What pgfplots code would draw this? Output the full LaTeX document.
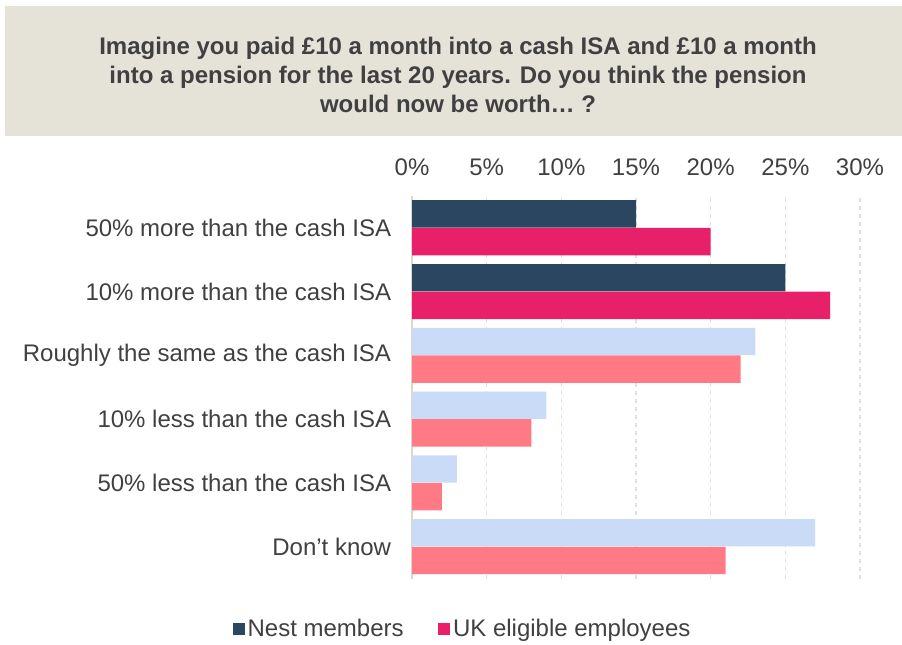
\documentclass[border=0pt]{standalone}
\usepackage{fontspec}
\setmainfont{Liberation Sans}
\usepackage{pgfplots}
\pgfplotsset{compat=1.18}
\definecolor{navy}{HTML}{2B4660}
\definecolor{magenta}{HTML}{E8206A}
\definecolor{lightblue}{HTML}{C9DBF6}
\definecolor{salmon}{HTML}{FF7A84}
\definecolor{beige}{HTML}{E5E2D8}
\definecolor{txt}{HTML}{404040}
\definecolor{gridc}{HTML}{E2DFD6}
\definecolor{axc}{HTML}{DAD7CE}
\begin{document}
\begin{tikzpicture}
\begin{scope}[x=0.75pt,y=-0.75pt]
\useasboundingbox (0,0) rectangle (902,643);
\fill[beige] (5,6) rectangle (902,136);
\node[align=center, text=txt, font=\bfseries\fontsize{18pt}{21.75pt}\selectfont] at (458,75)
 {Imagine you paid £10 a month into a cash ISA and £10 a month\\into a pension for the last 20 years. Do you think the pension\\would now be worth\ldots\ ?};
\end{scope}
\begin{axis}[
  at={(309pt,-433.875pt)}, anchor=south west,
  scale only axis, width=336pt, height=286.9pt,
  xbar, bar width=20.6pt,
  legend image code/.code={\fill[#1,draw=none] (0pt,-4.5pt) rectangle (9pt,4.5pt);},
  xmin=0, xmax=30, ymin=-0.5, ymax=5.5,
  xtick={0,5,...,30},
  xticklabel pos=upper,
  xticklabel={\pgfmathprintnumber{\tick}\%},
  /pgf/number format/assume math mode=true,
  xticklabel style={anchor=base, yshift=15.5pt, font=\fontsize{18pt}{21pt}\selectfont, text=txt},
  ytick={0,1,2,3,4,5},
  yticklabels={Don’t know, 50\% less than the cash ISA, 10\% less than the cash ISA, Roughly the same as the cash ISA, 10\% more than the cash ISA, 50\% more than the cash ISA},
  yticklabel style={anchor=east, inner sep=0pt, xshift=-15.5pt, font=\fontsize{18pt}{21pt}\selectfont, text=txt},
  major tick length=0pt,
  axis line style={draw=none},
  xmajorgrids, major grid style={dash pattern=on 3pt off 3pt, color=gridc, line width=0.8pt},
  clip=false,
  legend columns=2,
  legend style={at={(0.114,-0.132)}, anchor=center, draw=none, fill=none,
    font=\fontsize{18pt}{21pt}\selectfont, text=txt,
    /tikz/every even column/.append style={column sep=24pt}},
]
\draw[axc, line width=1.5pt] (axis cs:0,-0.5) -- (axis cs:0,5.5);
\addplot[fill=navy, draw=none, bar shift=10.4pt] coordinates {(15,5) (25,4)};
\addlegendentry{Nest members}
\addplot[fill=magenta, draw=none, bar shift=-10.4pt] coordinates {(20,5) (28,4)};
\addlegendentry{UK eligible employees}
\addplot[fill=lightblue, draw=none, bar shift=10.4pt, forget plot] coordinates {(23,3) (9,2) (3,1) (27,0)};
\addplot[fill=salmon, draw=none, bar shift=-10.4pt, forget plot] coordinates {(22,3) (8,2) (2,1) (21,0)};
\end{axis}
\end{tikzpicture}
\end{document}
